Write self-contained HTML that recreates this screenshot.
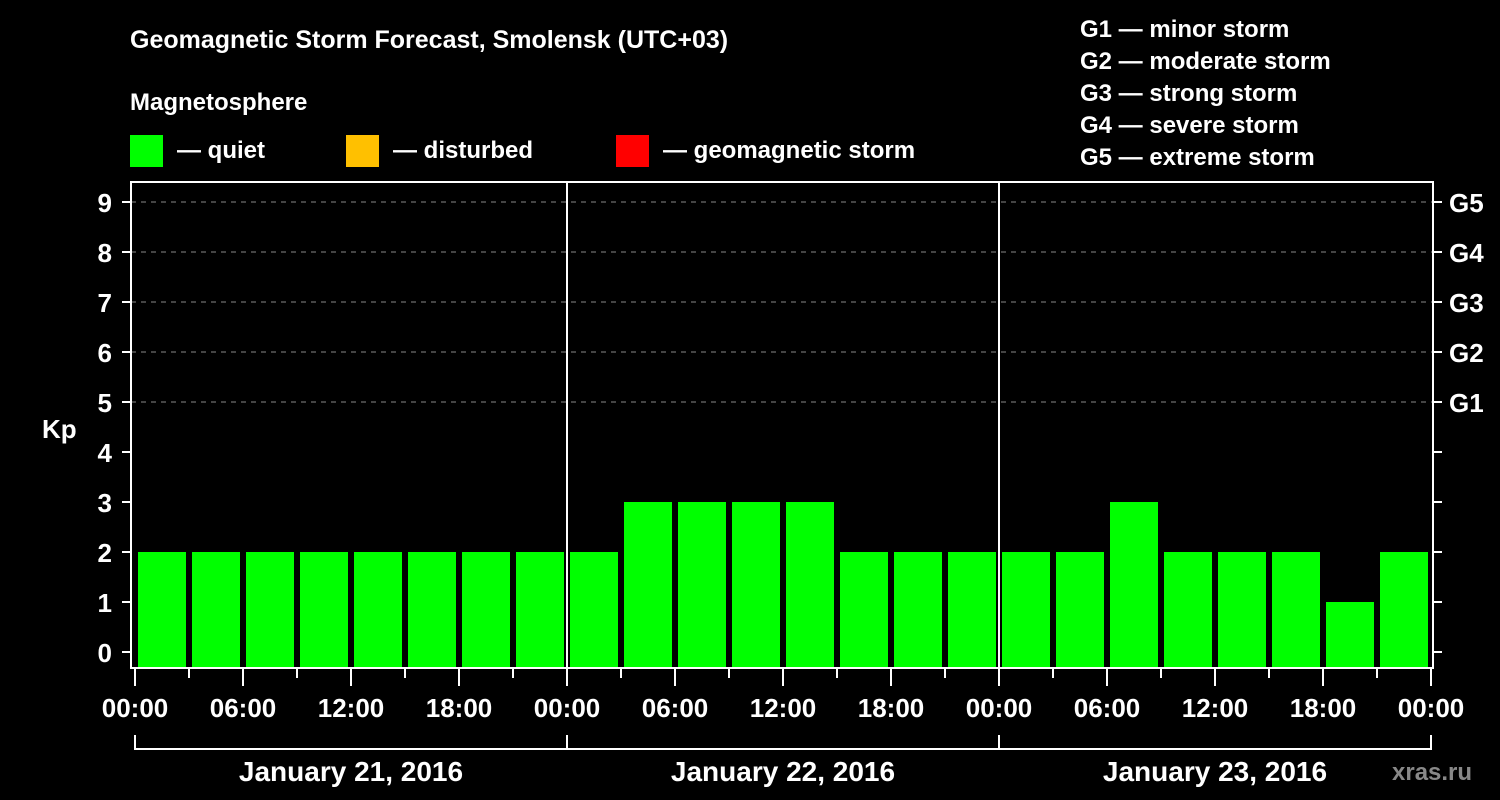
<!DOCTYPE html>
<html><head><meta charset="utf-8"><style>
body{margin:0;background:#000;}
svg{display:block;font-family:"Liberation Sans",sans-serif;font-weight:bold;}
</style></head><body>
<svg width="1500" height="800" xmlns="http://www.w3.org/2000/svg">
<rect width="1500" height="800" fill="#000"/>
<text x="130" y="48" fill="#fff" font-size="25">Geomagnetic Storm Forecast, Smolensk (UTC+03)</text>
<text x="130" y="110" fill="#fff" font-size="24">Magnetosphere</text>
<g><rect x="130" y="135" width="33" height="32" fill="#00ff00"/><text x="177" y="158" fill="#fff" font-size="24">— quiet</text></g>
<g><rect x="346" y="135" width="33" height="32" fill="#ffc000"/><text x="393" y="158" fill="#fff" font-size="24">— disturbed</text></g>
<g><rect x="616" y="135" width="33" height="32" fill="#ff0000"/><text x="663" y="158" fill="#fff" font-size="24">— geomagnetic storm</text></g>
<g fill="#fff" font-size="24">
<text x="1080" y="37">G1 — minor storm</text><text x="1080" y="69">G2 — moderate storm</text><text x="1080" y="101">G3 — strong storm</text><text x="1080" y="133">G4 — severe storm</text><text x="1080" y="165">G5 — extreme storm</text>
</g>
<text x="42" y="438" fill="#fff" font-size="26">Kp</text>
<g id="grid"></g><g id="bars"></g><g id="axes"></g>
<text x="1392" y="780" fill="#888" font-size="24">xras.ru</text>
</svg>
<script>
const kpValues=[2,2,2,2,2,2,2,2, 2,3,3,3,3,2,2,2, 2,2,3,2,2,2,1,2];
const yTicks=[0,1,2,3,4,5,6,7,8,9];
const gLabels=["G1","G2","G3","G4","G5"];
const gLevels=[5,6,7,8,9];
const xTickLabels=["00:00","06:00","12:00","18:00","00:00","06:00","12:00","18:00","00:00","06:00","12:00","18:00","00:00"];
const dayLabels=["January 21, 2016","January 22, 2016","January 23, 2016"];
const NS="http://www.w3.org/2000/svg";
const L=131,R=1433,T=182,B=668,X0=135,STEP=54;
const y=v=>652-50*v;
const x=i=>X0+i*STEP;
function mk(t,a,p){const e=document.createElementNS(NS,t);for(const k in a)e.setAttribute(k,a[k]);p.appendChild(e);return e;}
const grid=document.getElementById('grid'),bars=document.getElementById('bars'),axes=document.getElementById('axes');
gLevels.forEach((v,i)=>{const l=mk('line',{x1:L,x2:R,y1:y(v),y2:y(v),stroke:'#888','stroke-dasharray':'5,5','stroke-width':1},grid);


const t=mk('text',{x:1449,y:y(v)+10,fill:'#fff','font-size':26},axes);t.textContent=gLabels[i];

});
kpValues.forEach((v,i)=>{const c=v>=5?'#ff0000':(v>=4?'#ffc000':'#00ff00');
const r=mk('rect',{x:x(i)+3,y:y(v),width:48,height:B-y(v),fill:c},bars);

});
const fr=mk('rect',{x:L,y:T,width:R-L,height:B-T,fill:'none',stroke:'#fff','stroke-width':2},axes);


[1,2].forEach(d=>{const l=mk('line',{x1:x(d*8),x2:x(d*8),y1:T,y2:B,stroke:'#fff','stroke-width':2},axes);

});
yTicks.forEach(v=>{mk('line',{x1:122,x2:L,y1:y(v),y2:y(v),stroke:'#fff','stroke-width':2},axes);
mk('line',{x1:R,x2:1442,y1:y(v),y2:y(v),stroke:'#fff','stroke-width':2},axes);
const t=mk('text',{x:112,y:y(v)+10,fill:'#fff','font-size':26,'text-anchor':'end'},axes);t.textContent=v;

});
for(let i=0;i<=24;i++){mk('line',{x1:x(i),x2:x(i),y1:B,y2:i%2?678:686,stroke:'#fff','stroke-width':2},axes);}
xTickLabels.forEach((s,i)=>{const t=mk('text',{x:x(i*2),y:717,fill:'#fff','font-size':26,'text-anchor':'middle'},axes);t.textContent=s;

});
mk('line',{x1:x(0),x2:x(24),y1:749,y2:749,stroke:'#fff','stroke-width':2},axes);
for(let d=0;d<=3;d++)mk('line',{x1:x(d*8),x2:x(d*8),y1:735,y2:750,stroke:'#fff','stroke-width':2},axes);
dayLabels.forEach((s,d)=>{const t=mk('text',{x:x(d*8+4),y:781,fill:'#fff','font-size':28,'text-anchor':'middle'},axes);t.textContent=s;

});
</script>
</body></html>
